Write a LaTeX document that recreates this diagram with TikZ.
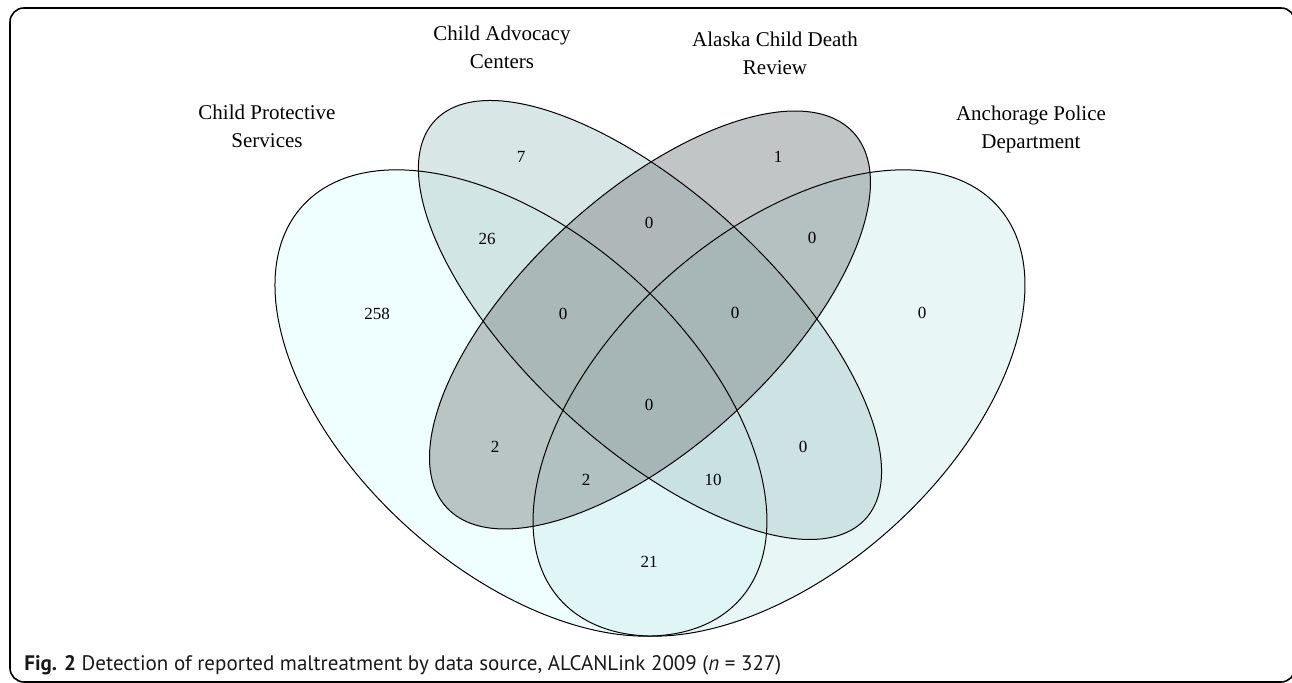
\documentclass[tikz,border=0pt]{standalone}
\usepackage{fontspec}
\setmainfont{Liberation Serif}
\newfontfamily\capfont{PT Sans}
\usepackage{xcolor}
\usepackage{tikz}

\definecolor{cpsfill}{RGB}{224,255,255}
\definecolor{cacfill}{RGB}{180,205,205}
\definecolor{acdrfill}{RGB}{131,139,139}
\definecolor{apdfill}{RGB}{209,238,238}

\begin{document}
\begin{tikzpicture}[x=0.5pt,y=0.5pt,
  setline/.style={draw=black,line width=0.5pt},
  setfill/.style={fill=#1,fill opacity=0.5},
  num/.style={font=\fontsize{8.5}{9}\selectfont,inner sep=0pt},
  lbl/.style={font=\fontsize{10.5}{14}\selectfont,align=center,inner sep=0pt}]
%\draw[color=black!20,step=50] (0,0) grid (1292,683);
\useasboundingbox (0,0) rectangle (1292,683);
\draw[line width=0.8pt,rounded corners=7] (10,1) rectangle (1295,675);
% the four sets, x stretched a little
\begin{scope}[xscale=1.055]
\fill[setfill=cpsfill,rotate around={135:(493.8,280)}] (493.8,280) ellipse (286 and 164);
\fill[setfill=apdfill,rotate around={45:(738.4,280)}] (738.4,280) ellipse (286 and 164);
\fill[setfill=cacfill,rotate around={135:(616.1,363)}] (616.1,363) ellipse (285.25 and 122.25);
\fill[setfill=acdrfill,rotate around={45:(616.1,363)}] (616.1,363) ellipse (269 and 122.25);
\draw[setline,rotate around={135:(493.8,280)}] (493.8,280) ellipse (286 and 164);
\draw[setline,rotate around={45:(738.4,280)}] (738.4,280) ellipse (286 and 164);
\draw[setline,rotate around={135:(616.1,363)}] (616.1,363) ellipse (285.25 and 122.25);
\draw[setline,rotate around={45:(616.1,363)}] (616.1,363) ellipse (269 and 122.25);
\end{scope}
% set names
\node[lbl] (cps) at (267,557) {Child Protective\\Services};
\node[lbl] (cac) at (502,636) {Child Advocacy\\Centers};
\node[lbl] (acdr) at (775,630) {Alaska Child Death\\Review};
\node[lbl] (apd) at (1031,554) {Anchorage Police\\Department};
% counts
\node[num] (n258) at (377,369) {258};
\node[num] (n26) at (487,444) {26};
\node[num] (n7) at (521,526) {7};
\node[num] (n0a) at (649,460) {0};
\node[num] (n1) at (778,526) {1};
\node[num] (n0b) at (812,445) {0};
\node[num] (n0c) at (922,370) {0};
\node[num] (n0d) at (563,369) {0};
\node[num] (n0e) at (735,370) {0};
\node[num] (n0f) at (649,278) {0};
\node[num] (n2a) at (495,236) {2};
\node[num] (n2b) at (586,203) {2};
\node[num] (n10) at (713,203) {10};
\node[num] (n0g) at (803,236) {0};
\node[num] (n21) at (649,121) {21};
% caption
\node[anchor=base west,inner sep=0pt,text=black!90,font=\capfont\fontsize{10.5}{12}\selectfont] (fig) at (24,12)
  {\textbf{Fig. 2} Detection of reported maltreatment by data source, ALCANLink 2009 (\textit{n} = 327)};
\end{tikzpicture}
\end{document}
